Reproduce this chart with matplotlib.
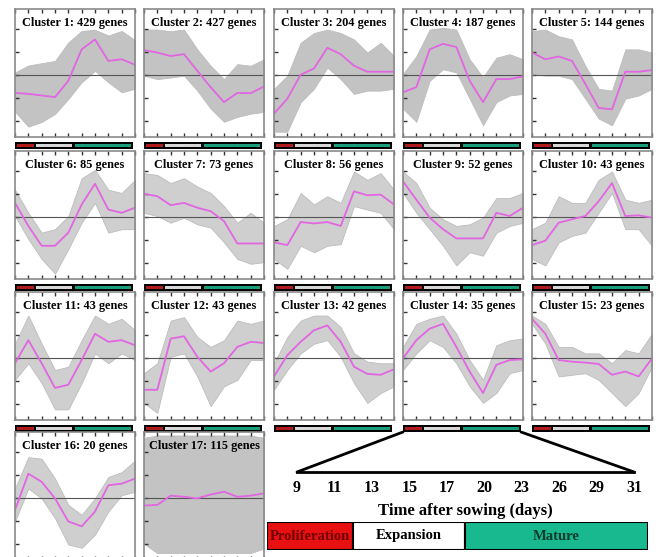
import numpy as np
import matplotlib
matplotlib.use('Agg')
import matplotlib.pyplot as plt
from matplotlib.patches import ConnectionPatch

plt.rcParams['font.family'] = 'Liberation Serif'

# Data (expression, log-ratio units)
days = [9, 11, 13, 15, 17, 20, 23, 26, 29, 31]
cluster_sizes = [429, 427, 204, 187, 144, 85, 73, 56, 52, 43, 43, 43, 42, 35, 23, 20, 115]

# mean profile of each cluster (magenta line)
means = [
    [-0.79, -0.83, -0.90, -0.97, -0.26, 1.10, 1.53, 0.60, 0.67, 0.43],
    [1.07, 0.96, 0.81, 0.89, 0.17, -0.54, -1.19, -0.79, -0.80, -0.51],
    [-1.69, -1.04, 0.00, 0.27, 1.17, 0.89, 0.39, 0.13, 0.13, 0.13],
    [-0.76, -0.54, 1.10, 1.34, 1.20, -0.26, -1.19, -0.19, -0.19, -0.07],
    [0.96, 0.67, 0.79, 0.60, -0.40, -1.44, -1.50, 0.13, 0.13, 0.20],
    [0.60, -0.40, -1.26, -1.26, -0.69, 0.53, 1.43, 0.31, 0.17, 0.39],
    [0.99, 0.89, 0.50, 0.60, 0.39, 0.24, -0.19, -1.16, -1.16, -1.16],
    [-1.11, -1.23, -0.23, -0.29, -0.23, -0.40, 1.10, 0.93, 0.96, 0.53],
    [1.53, 0.74, -0.04, -0.54, -0.94, -0.94, -0.94, 0.17, 0.03, 0.39],
    [-1.23, -1.04, -0.26, -0.11, 0.03, 0.67, 1.46, 0.03, 0.06, -0.04],
    [-0.24, 0.76, -0.24, -1.31, -1.17, -0.10, 1.04, 0.69, 0.76, 0.54],
    [-1.39, -1.39, 0.83, 0.93, 0.04, -0.60, -0.24, 0.47, 0.69, 0.64],
    [-0.81, 0.11, 0.69, 1.19, 1.40, 0.69, -0.39, -0.70, -0.74, -0.50],
    [-0.03, 0.76, 1.26, 1.47, 0.47, -0.60, -1.53, -0.31, -0.10, -0.07],
    [1.69, 1.04, -0.10, -0.17, -0.21, -0.27, -0.74, -0.60, -0.81, -0.03],
    [-0.53, 1.04, 0.69, -0.03, -1.03, -1.24, -0.60, 0.54, 0.61, 0.83],
    [-0.34, -0.31, 0.09, 0.04, -0.03, 0.14, 0.26, 0.04, 0.09, 0.19],
]

# upper / lower edge of the gray band of single genes
uppers = [
    [0.10, 0.40, 0.50, 0.60, 1.40, 1.90, 1.95, 1.70, 1.90, 1.50],
    [1.96, 1.96, 1.89, 1.96, 1.10, 0.39, -0.19, 0.46, 0.39, 0.67],
    [-0.61, -0.04, 1.39, 1.81, 1.96, 1.81, 1.53, 0.96, 1.39, 0.81],
    [0.03, 0.81, 1.96, 2.03, 1.96, 0.67, -0.11, 0.74, 0.89, 0.67],
    [1.89, 1.96, 1.67, 1.53, 0.39, -0.61, -0.69, 1.10, 1.10, 0.96],
    [1.17, 0.17, -0.69, -0.54, 0.03, 1.67, 2.03, 1.17, 1.03, 1.60],
    [1.89, 1.81, 1.46, 1.67, 1.31, 1.03, 0.46, -0.26, 0.17, -0.26],
    [-0.40, -0.11, 1.03, 0.53, 0.89, 0.60, 1.96, 1.60, 1.89, 1.17],
    [1.96, 1.46, 0.39, -0.11, -0.40, -0.33, -0.04, 0.81, 0.81, 1.03],
    [-0.54, -0.26, 0.89, 0.60, 0.60, 1.60, 1.96, 0.74, 0.60, 0.74],
    [0.61, 1.83, 0.61, -0.53, -0.39, 0.76, 1.83, 1.47, 1.69, 1.19],
    [-0.67, -0.24, 1.61, 1.76, 0.90, 0.47, 0.76, 1.61, 1.47, 1.61],
    [-0.24, 0.90, 1.61, 1.83, 1.83, 1.33, 0.19, -0.17, -0.24, -0.24],
    [0.47, 1.47, 1.69, 1.83, 1.04, -0.10, -0.96, 0.54, 0.76, 0.83],
    [1.83, 1.47, 0.47, 0.47, 0.19, 0.19, -0.24, 0.33, 0.19, 1.04],
    [0.40, 1.76, 1.69, 0.83, -0.31, -0.74, -0.03, 0.90, 1.11, 1.61],
    [2.60, 2.70, 2.70, 2.70, 2.70, 2.70, 2.70, 2.70, 2.70, 2.60],
]
lowers = [
    [-1.60, -2.25, -2.05, -1.70, -1.05, -0.33, 0.17, -0.33, -0.76, -0.61],
    [-0.04, -0.19, -0.12, -0.04, -0.69, -1.47, -2.04, -1.83, -1.69, -1.61],
    [-2.47, -2.47, -1.19, -0.61, 0.31, -0.19, -0.83, -0.69, -0.69, -0.61],
    [-1.47, -2.04, -0.26, 0.24, 0.10, -1.04, -2.19, -1.19, -0.90, -0.83],
    [0.03, -0.04, -0.04, -0.19, -1.04, -1.90, -2.19, -1.04, -0.90, -0.61],
    [0.03, -0.97, -1.83, -2.47, -1.40, -0.26, 0.60, -0.69, -0.54, -0.54],
    [0.17, 0.03, -0.26, -0.04, -0.33, -0.47, -1.11, -1.83, -2.04, -1.97],
    [-1.83, -2.26, -1.26, -1.54, -1.26, -1.19, 0.46, 0.31, 0.17, -0.54],
    [1.03, 0.17, -0.54, -1.26, -2.11, -1.54, -1.69, -0.69, -0.40, -0.26],
    [-1.83, -2.11, -1.11, -0.83, -0.69, 0.17, 1.03, -0.54, -0.54, -1.26],
    [-0.96, -0.24, -1.10, -2.24, -2.24, -1.10, 0.19, -0.24, 0.19, -0.10],
    [-1.96, -2.39, 0.04, 0.19, -0.81, -2.10, -1.24, -0.96, -0.10, -0.10],
    [-1.39, -0.53, 0.19, 0.61, 0.76, 0.04, -1.10, -1.96, -1.53, -1.24],
    [-0.53, 0.19, 0.76, 0.47, -0.24, -1.24, -1.96, -1.53, -0.67, -0.53],
    [1.47, 0.61, -0.81, -0.74, -0.67, -0.96, -1.53, -2.10, -1.53, -0.39],
    [-1.03, 0.40, -0.03, -0.89, -2.03, -2.17, -1.60, -0.60, 0.11, 0.26],
    [-2.00, -2.40, -2.40, -2.40, -2.40, -2.40, -2.40, -2.40, -2.40, -2.20],
]

phase_names = ['Proliferation', 'Expansion', 'Mature']
phase_share = [0.226, 0.294, 0.480]

# layout (pixels of a 658x557 figure)
W, H = 658, 557
col_left = [15, 144, 274, 403, 532]
row_top = [9, 151, 292, 432]
pw, ph = 120, 128

def box(left, top, w, h):
    return [left / W, 1 - (top + h) / H, w / W, h / H]

fig = plt.figure(figsize=(W / 100, H / 100), dpi=100)

bar_segments = [(0.02, 0.16), (0.18, 0.48), (0.51, 0.985)]
bar_colors = ['#b01c1c', '#d6d6d6', '#1a9e7c']
x = np.arange(len(days))
bar_axes = {}

for i in range(len(cluster_sizes)):
    r, c = divmod(i, 5)
    ax = fig.add_axes(box(col_left[c], row_top[r], pw, ph))
    band = '#c3c3c3' if cluster_sizes[i] >= 100 else '#cfcfcf'
    ax.fill_between(x, lowers[i], uppers[i], color=band, lw=0.6, edgecolor='#bdbdbd')
    ax.axhline(0, color='#555555', lw=0.8)
    ax.plot(x, means[i], color='#e265e2', lw=1.3)
    ax.set_xlim(0, len(days) - 1)
    ax.set_ylim(-2.7, 2.85)
    ax.set_xticks(x)
    ax.set_yticks([-2, -1, 0, 1, 2])
    ax.tick_params(direction='in', length=3, width=1, color='#333333',
                   top=True, bottom=True, left=True, right=False,
                   labelbottom=False, labelleft=False)
    for s in ax.spines.values():
        s.set_color('#8a8a8a')
        s.set_linewidth(1.2)
    ax.text(0.5, 0.89, f'Cluster {i + 1}: {cluster_sizes[i]} genes', transform=ax.transAxes,
            ha='center', va='center', fontsize=8.8, fontweight='bold')

    # phase bar under the panel
    if r < 3:
        bx = fig.add_axes(box(col_left[c], row_top[r] + ph + 5, 118, 7))
        bx.set_facecolor('black')
        for (s0, s1), col in zip(bar_segments, bar_colors):
            bx.barh(0, s1 - s0, left=s0, height=0.5, color=col)
        bx.set_xlim(0, 1)
        bx.set_ylim(-0.5, 0.5)
        bx.set_xticks([])
        bx.set_yticks([])
        for s in bx.spines.values():
            s.set_visible(False)
        bar_axes[i] = bx

# time axis
tx = fig.add_axes(box(297, 452, 337, 20))
tx.set_xlim(0, len(days) - 1)
tx.set_ylim(0, 1)
for side in ['top', 'left', 'right']:
    tx.spines[side].set_visible(False)
tx.spines['bottom'].set_linewidth(2)
tx.set_yticks([])
tx.set_xticks(x)
tx.set_xticklabels([str(d) for d in days], fontsize=11.5, fontweight='bold')
tx.set_xticks(x[1:-1], minor=True)
tx.tick_params(axis='x', which='major', length=0, pad=6)
tx.tick_params(axis='x', which='minor', direction='in', length=7, width=2)
tx.set_xlabel('Time after sowing (days)', fontsize=12, fontweight='bold', labelpad=5)
tx.patch.set_alpha(0)

# zoom lines from the bar of cluster 14
for xa, xb in [(0, 0), (1, 1)]:
    con = ConnectionPatch(xyA=(xa, 0), coordsA=bar_axes[13].transAxes,
                          xyB=(xb, 0), coordsB=tx.transAxes, color='black', lw=2)
    fig.add_artist(con)

# phase legend
lx = fig.add_axes(box(267, 522, 381, 28))
phase_left = np.cumsum([0] + phase_share[:-1])
legend_colors = ['#e81010', 'white', '#19b98f']
text_colors = ['#700000', 'black', '#0b3a2c']
for name, l, w, col, tc in zip(phase_names, phase_left, phase_share, legend_colors, text_colors):
    lx.barh(0, w, left=l, height=1, color=col, edgecolor='black', lw=1.5)
    lx.text(l + w / 2, 0, name, ha='center', va='center', fontsize=10.5, fontweight='bold', color=tc)
lx.set_xlim(0, 1)
lx.set_ylim(-0.5, 0.5)
lx.axis('off')

fig.savefig('out.png', dpi=100)
